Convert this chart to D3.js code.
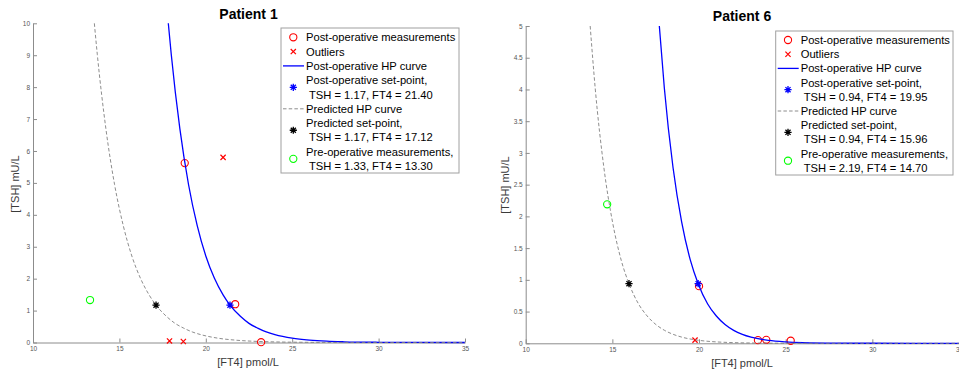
<!DOCTYPE html>
<html>
<head>
<meta charset="utf-8">
<script src="https://cdn.jsdelivr.net/npm/d3@7/dist/d3.min.js"></script>
<style>
  html, body { margin: 0; padding: 0; background: #fff; }
  svg { display: block; font-family: "Liberation Sans", Arial, Helvetica, sans-serif; }
</style>
</head>
<body>
<svg id="chart" width="959" height="374"></svg>
<script>
// ---- Axis ticks ----
const xTicks = [10, 15, 20, 25, 30, 35];
const p1YTicks = [0, 1, 2, 3, 4, 5, 6, 7, 8, 9, 10];
const p6YTicks = [0, 0.5, 1, 1.5, 2, 2.5, 3, 3.5, 4, 4.5, 5];

// ---- Patient 1 ----
const p1PostFT4 = [18.78, 21.70, 23.20];
const p1PostTSH = [5.62, 1.20, 0.01];
const p1OutlierFT4 = [21.00, 17.90, 18.70];
const p1OutlierTSH = [5.80, 0.05, 0.03];
const p1PostSetPoint = [21.40, 1.17];   // [FT4, TSH]
const p1PredSetPoint = [17.12, 1.17];
const p1PreOp = [13.30, 1.33];
const p1PostCurveFT4 = [17.83, 18.0, 18.5, 19.0, 19.5, 20.0, 20.5, 21.0, 21.4, 22.0, 22.5, 23.0, 23.5, 24.0, 25.0, 26.0, 27.0, 28.0, 30.0, 32.0, 35.0];
const p1PostCurveTSH = [10.0, 9.03, 6.69, 4.95, 3.67, 2.71, 2.01, 1.49, 1.17, 0.82, 0.60, 0.45, 0.33, 0.245, 0.134, 0.074, 0.040, 0.022, 0.0067, 0.002, 0.0003];
const p1PredCurveFT4 = [13.55, 13.72, 14.22, 14.72, 15.22, 15.72, 16.22, 16.72, 17.12, 17.72, 18.22, 18.72, 19.22, 19.72, 20.72, 21.72, 22.72, 23.72, 25.72, 27.72, 35.0];
const p1PredCurveTSH = [10.0, 9.03, 6.69, 4.95, 3.67, 2.71, 2.01, 1.49, 1.17, 0.82, 0.60, 0.45, 0.33, 0.245, 0.134, 0.074, 0.040, 0.022, 0.0067, 0.002, 0.0];

// ---- Patient 6 ----
const p6PostFT4 = [20.00, 23.40, 23.88, 25.29];
const p6PostTSH = [0.90, 0.05, 0.055, 0.04];
const p6OutlierFT4 = [19.77];
const p6OutlierTSH = [0.05];
const p6PostSetPoint = [19.95, 0.94];
const p6PredSetPoint = [15.96, 0.94];
const p6PreOp = [14.70, 2.19];
const p6PostCurveFT4 = [17.71, 18.0, 18.5, 19.0, 19.5, 19.95, 20.5, 21.0, 21.5, 22.0, 22.5, 23.0, 24.0, 25.0, 26.0, 28.0, 30.0, 35.0];
const p6PostCurveTSH = [5.0, 4.02, 2.77, 1.91, 1.31, 0.94, 0.62, 0.43, 0.296, 0.204, 0.141, 0.097, 0.046, 0.022, 0.0104, 0.0023, 0.0005, 0.0];
const p6PredCurveFT4 = [13.72, 14.01, 14.51, 15.01, 15.51, 15.96, 16.51, 17.01, 17.51, 18.01, 18.51, 19.01, 20.01, 21.01, 22.01, 24.01, 26.01, 35.0];
const p6PredCurveTSH = [5.0, 4.02, 2.77, 1.91, 1.31, 0.94, 0.62, 0.43, 0.296, 0.204, 0.141, 0.097, 0.046, 0.022, 0.0104, 0.0023, 0.0005, 0.0];

const svg = d3.select("#chart");

const COL = {
  red: "#ff0000", blue: "#0000ff", gray: "#808080", green: "#00ff00", black: "#000000",
  axis: "#8c8c8c", tickText: "#555555", label: "#3a3a3a"
};

// MATLAB-style '*' marker: plus and cross overlaid
function starPath(r) {
  const d = r * Math.SQRT1_2;
  return `M${-r},0L${r},0M0,${-r}L0,${r}M${-d},${-d}L${d},${d}M${-d},${d}L${d},${-d}`;
}
function crossPath(r) {
  return `M${-r},${-r}L${r},${r}M${-r},${r}L${r},${-r}`;
}

function drawMarker(g, type, color, x, y) {
  if (type === "circle") {
    g.append("circle").attr("cx", x).attr("cy", y).attr("r", 3.6)
      .attr("fill", "none").attr("stroke", color).attr("stroke-width", 1.1);
  } else if (type === "cross") {
    g.append("path").attr("transform", `translate(${x},${y})`).attr("d", crossPath(2.6))
      .attr("fill", "none").attr("stroke", color).attr("stroke-width", 1.2);
  } else if (type === "star") {
    g.append("path").attr("transform", `translate(${x},${y})`).attr("d", starPath(3.6))
      .attr("fill", "none").attr("stroke", color).attr("stroke-width", 1.3);
  }
}

const fmt = d3.format(".2f");

function panel(cfg) {
  const x = d3.scaleLinear().domain([10, 35]).range(cfg.xRange);
  const y = d3.scaleLinear().domain(cfg.yDomain).range(cfg.yRange);
  const g = svg.append("g");

  const clipId = "clip-" + cfg.id;
  svg.append("clipPath").attr("id", clipId).append("rect")
    .attr("x", cfg.xRange[0]).attr("y", cfg.yRange[1] - 1)
    .attr("width", cfg.xRange[1] - cfg.xRange[0] + 40)
    .attr("height", cfg.yRange[0] - cfg.yRange[1] + 6);

  // axes (ticks pointing inward)
  const xAxis = d3.axisBottom(x).tickValues(xTicks).tickSizeInner(-4).tickSizeOuter(0).tickPadding(4)
    .tickFormat(d3.format("d"));
  const yAxis = d3.axisLeft(y).tickValues(cfg.yTicks).tickSizeInner(-4).tickSizeOuter(0).tickPadding(3)
    .tickFormat(d => String(d));

  const gx = g.append("g").attr("transform", `translate(0,${cfg.yRange[0]})`).call(xAxis);
  const gy = g.append("g").attr("transform", `translate(${cfg.xRange[0]},0)`).call(yAxis);
  [gx, gy].forEach(a => {
    a.select(".domain").attr("stroke", COL.axis).attr("stroke-width", 1);
    a.selectAll(".tick line").attr("stroke", COL.axis);
    a.selectAll(".tick text").attr("fill", COL.tickText)
      .style("font-family", '"Liberation Sans", Arial, sans-serif').style("font-size", "6.5px");
  });

  // titles and axis labels
  g.append("text").attr("x", cfg.titleX).attr("y", cfg.titleY).attr("text-anchor", "middle")
    .attr("font-weight", "bold").attr("font-size", 14).attr("fill", "#000").text(cfg.title);
  g.append("text").attr("x", cfg.xLabelX).attr("y", cfg.xLabelY).attr("text-anchor", "middle")
    .attr("dominant-baseline", "central").attr("font-size", 11).attr("fill", COL.label).text("[FT4] pmol/L");
  g.append("text").attr("transform", `translate(${cfg.yLabelX},${cfg.yLabelY}) rotate(-90)`)
    .attr("text-anchor", "middle").attr("dominant-baseline", "central")
    .attr("font-size", 11).attr("fill", COL.label).text("[TSH] mU/L");

  const plot = g.append("g").attr("clip-path", `url(#${clipId})`);
  const line = d3.line().x(d => x(d[0])).y(d => y(d[1])).curve(d3.curveMonotoneX);

  // post-operative measurements
  cfg.postFT4.forEach((v, i) => drawMarker(plot, "circle", COL.red, x(v), y(cfg.postTSH[i])));
  // outliers
  cfg.outFT4.forEach((v, i) => drawMarker(plot, "cross", COL.red, x(v), y(cfg.outTSH[i])));
  // post-operative HP curve
  plot.append("path").datum(d3.zip(cfg.postCurveFT4, cfg.postCurveTSH)).attr("d", line)
    .attr("fill", "none").attr("stroke", COL.blue).attr("stroke-width", 1.3);
  drawMarker(plot, "star", COL.blue, x(cfg.postSet[0]), y(cfg.postSet[1]));
  // predicted HP curve
  plot.append("path").datum(d3.zip(cfg.predCurveFT4, cfg.predCurveTSH)).attr("d", line)
    .attr("fill", "none").attr("stroke", COL.gray).attr("stroke-width", 0.9).attr("stroke-dasharray", "3.5,2.2");
  drawMarker(plot, "star", COL.black, x(cfg.predSet[0]), y(cfg.predSet[1]));
  // pre-operative measurement
  drawMarker(plot, "circle", COL.green, x(cfg.preOp[0]), y(cfg.preOp[1]));

  // legend
  const L = cfg.legend;
  const entries = [
    { kind: "circle", color: COL.red, lines: ["Post-operative measurements"] },
    { kind: "cross", color: COL.red, lines: ["Outliers"] },
    { kind: "line", color: COL.blue, lines: ["Post-operative HP curve"] },
    { kind: "star", color: COL.blue, lines: ["Post-operative set-point,",
        `TSH = ${fmt(cfg.postSet[1])}, FT4 = ${fmt(cfg.postSet[0])}`] },
    { kind: "dash", color: COL.gray, lines: ["Predicted HP curve"] },
    { kind: "star", color: COL.black, lines: ["Predicted set-point,",
        `TSH = ${fmt(cfg.predSet[1])}, FT4 = ${fmt(cfg.predSet[0])}`] },
    { kind: "circle", color: COL.green, lines: ["Pre-operative measurements,",
        `TSH = ${fmt(cfg.preOp[1])}, FT4 = ${fmt(cfg.preOp[0])}`] }
  ];
  const lg = g.append("g");
  lg.append("rect").attr("x", L.x).attr("y", L.y).attr("width", L.w).attr("height", L.h)
    .attr("fill", "#fff").attr("stroke", "#a0a0a0").attr("stroke-width", 1);
  let row = 0;
  entries.forEach(e => {
    const y0 = L.y + L.first + row * L.pitch;
    const cy = y0 + (e.lines.length - 1) * L.pitch / 2;
    if (e.kind === "line" || e.kind === "dash") {
      const p = lg.append("line").attr("x1", L.x + 2).attr("x2", L.x + 23).attr("y1", cy).attr("y2", cy)
        .attr("stroke", e.color).attr("stroke-width", e.kind === "line" ? 1.3 : 0.9);
      if (e.kind === "dash") p.attr("stroke-dasharray", "3.5,2.2");
    } else {
      drawMarker(lg, e.kind, e.color, L.x + 12.3, cy);
    }
    e.lines.forEach((t, k) => {
      lg.append("text").attr("x", L.x + 25 + (k > 0 ? 3 : 0)).attr("y", y0 + k * L.pitch)
        .attr("dominant-baseline", "central").attr("font-size", 11.2).attr("fill", "#000").text(t);
    });
    row += e.lines.length;
  });
}

panel({
  id: "p1", title: "Patient 1", titleX: 248.5, titleY: 18.5,
  xRange: [33, 465], yRange: [342.5, 23.3], yDomain: [0, 10], yTicks: p1YTicks,
  xLabelX: 248, xLabelY: 361.5, yLabelX: 15, yLabelY: 184,
  postFT4: p1PostFT4, postTSH: p1PostTSH, outFT4: p1OutlierFT4, outTSH: p1OutlierTSH,
  postSet: p1PostSetPoint, predSet: p1PredSetPoint, preOp: p1PreOp,
  postCurveFT4: p1PostCurveFT4, postCurveTSH: p1PostCurveTSH,
  predCurveFT4: p1PredCurveFT4, predCurveTSH: p1PredCurveTSH,
  legend: { x: 281, y: 28, w: 178, h: 145, first: 9.3, pitch: 14.3 }
});

panel({
  id: "p6", title: "Patient 6", titleX: 742, titleY: 21,
  xRange: [525.7, 959], yRange: [343.3, 26], yDomain: [0, 5], yTicks: p6YTicks,
  xLabelX: 742, xLabelY: 363, yLabelX: 505, yLabelY: 185,
  postFT4: p6PostFT4, postTSH: p6PostTSH, outFT4: p6OutlierFT4, outTSH: p6OutlierTSH,
  postSet: p6PostSetPoint, predSet: p6PredSetPoint, preOp: p6PreOp,
  postCurveFT4: p6PostCurveFT4, postCurveTSH: p6PostCurveTSH,
  predCurveFT4: p6PredCurveFT4, predCurveTSH: p6PredCurveTSH,
  legend: { x: 775.7, y: 31, w: 177.3, h: 144, first: 9, pitch: 14.2 }
});
</script>
</body>
</html>
